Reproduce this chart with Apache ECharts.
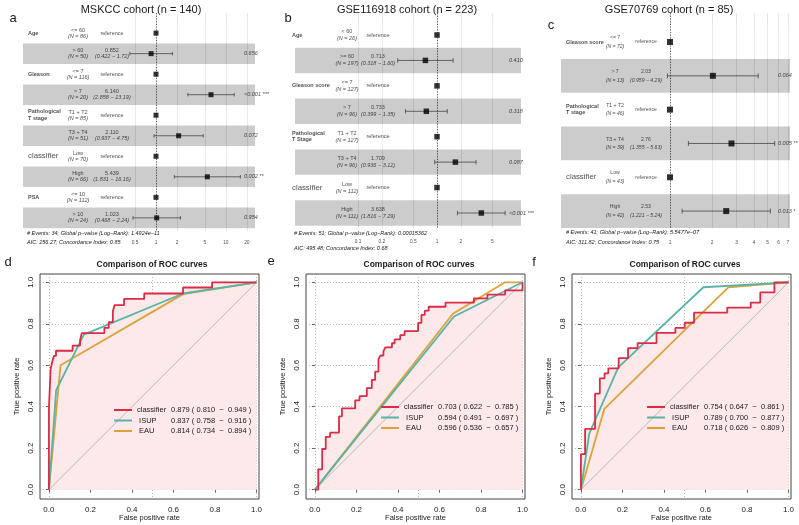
<!DOCTYPE html>
<html><head><meta charset="utf-8">
<script src="https://cdn.jsdelivr.net/npm/echarts@6/dist/echarts.min.js"></script>
<style>html,body{margin:0;padding:0;background:#fff}#c{width:799px;height:525px}</style>
</head><body><div id="c"></div>
<script>
const FONT = '"Liberation Sans", Arial, Helvetica, sans-serif';
const TXT = '#1a1a1a';
const M = '\u2212';

// ===== a: MSKCC forest =====
const aTitle = 'MSKCC cohort (n = 140)';
const aVars   = ['Age','','Gleason','','Pathological\nT stage','','classifier','','PSA',''];
const aLevels = ['<= 60','> 60','<= 7','> 7','T1 + T2','T3 + T4','Low','High','<= 10','> 10'];
const aN      = [86,50,116,20,85,51,70,66,112,24];
const aHR     = [1,0.852,1,6.140,1,2.110,1,5.439,1,1.023];
const aLo     = [null,0.422,null,2.858,null,0.937,null,1.831,null,0.468];
const aHi     = [null,1.72,null,13.19,null,4.75,null,16.16,null,2.24];
const aEst    = ['reference','0.852','reference','6.140','reference','2.110','reference','5.439','reference','1.023'];
const aCI     = ['','(0.422 '+M+' 1.72)','','(2.858 '+M+' 13.19)','','(0.937 '+M+' 4.75)','','(1.831 '+M+' 16.16)','','(0.468 '+M+' 2.24)'];
const aP      = ['','0.656','','<0.001 ***','','0.072','','0.002 **','','0.954'];
const aTicks  = [0.5,1,2,5,10,20];
const aFoot   = ['# Events: 34; Global p'+M+'value (Log'+M+'Rank): 1.4924e'+M+'11','AIC: 256.27; Concordance Index: 0.85'];

// ===== b: GSE116918 forest =====
const bTitle = 'GSE116918 cohort (n = 223)';
const bVars   = ['Age','','Gleason score','','Pathological\nT Stage','','classifier',''];
const bLevels = ['< 60','>= 60','<= 7','> 7','T1 + T2','T3 + T4','Low','High'];
const bN      = [26,197,127,96,127,96,112,111];
const bHR     = [1,0.713,1,0.733,1,1.709,1,3.638];
const bLo     = [null,0.318,null,0.399,null,0.936,null,1.816];
const bHi     = [null,1.60,null,1.35,null,3.12,null,7.29];
const bEst    = ['reference','0.713','reference','0.733','reference','1.709','reference','3.638'];
const bCI     = ['','(0.318 '+M+' 1.60)','','(0.399 '+M+' 1.35)','','(0.936 '+M+' 3.12)','','(1.816 '+M+' 7.29)'];
const bP      = ['','0.410','','0.318','','0.087','','<0.001 ***'];
const bTicks  = [0.1,0.2,0.5,1,2,5];
const bFoot   = ['# Events: 51; Global p'+M+'value (Log'+M+'Rank): 0.00015362','AIC: 495.48; Concordance Index: 0.68'];

// ===== c: GSE70769 forest =====
const cTitle = 'GSE70769 cohort (n = 85)';
const cVars   = ['Gleason score','','Pathological\nT stage','','classifier',''];
const cLevels = ['<= 7','> 7','T1 + T2','T3 + T4','Low','High'];
const cN      = [72,13,46,39,43,42];
const cHR     = [1,2.03,1,2.76,1,2.53];
const cLo     = [null,0.959,null,1.355,null,1.221];
const cHi     = [null,4.29,null,5.63,null,5.24];
const cEst    = ['reference','2.03','reference','2.76','reference','2.53'];
const cCI     = ['','(0.959 '+M+' 4.29)','','(1.355 '+M+' 5.63)','','(1.221 '+M+' 5.24)'];
const cP      = ['','0.064','','0.005 **','','0.013 *'];
const cTicks  = [1,2,3,4,5,6,7];
const cFoot   = ['# Events: 41; Global p'+M+'value (Log'+M+'Rank): 5.5477e'+M+'07','AIC: 311.82; Concordance Index: 0.75'];

// ===== ROC curves (false positive rate, true positive rate) =====
const rocNames = ['classifier','ISUP','EAU'];
const dClsF = [0,0,0.008,0.016,0.024,0.034,0.114,0.150,0.158,0.267,0.288,0.308,0.316,0.362,0.459,0.646,0.786,1];
const dClsT = [0,0.39,0.58,0.617,0.645,0.67,0.695,0.72,0.755,0.78,0.808,0.86,0.89,0.92,0.946,0.975,1,1];
const dIsupF = [0,0.035,0.06,0.168,0.646,1];
const dIsupT = [0,0.48,0.53,0.748,0.946,1];
const dEauF = [0,0.056,0.646,1];
const dEauT = [0,0.60,0.943,1];
const dAuc = [0.879,0.837,0.814], dLo = [0.810,0.758,0.734], dHi = [0.949,0.916,0.894];
const dP = [0.214,0.085];

const eClsF = [0,0.016,0.035,0.052,0.073,0.116,0.130,0.194,0.215,0.250,0.274,0.290,0.306,0.315,0.330,0.339,0.371,0.384,0.411,0.432,0.497,0.513,0.529,0.548,0.629,0.766,0.831,0.916,1];
const eClsT = [0,0.098,0.196,0.255,0.275,0.353,0.392,0.431,0.451,0.490,0.529,0.569,0.627,0.647,0.667,0.686,0.706,0.725,0.745,0.765,0.804,0.843,0.863,0.882,0.902,0.922,0.941,0.961,1];
const eIsupF = [0,0.67,1];
const eIsupT = [0,0.835,1];
const eEauF = [0,0.665,0.916,1];
const eEauT = [0,0.848,1,1];
const eAuc = [0.703,0.594,0.596], eLo = [0.622,0.491,0.536], eHi = [0.785,0.697,0.657];
const eP = [0.046,0.017];

const fClsF = [0,0,0.020,0.068,0.091,0.114,0.132,0.182,0.227,0.273,0.364,0.455,0.500,0.545,0.705,0.818,0.864,0.932,1];
const fClsT = [0,0.171,0.293,0.463,0.537,0.561,0.585,0.634,0.683,0.707,0.756,0.780,0.805,0.854,0.878,0.902,0.951,1,1];
const fIsupF = [0,0.04,0.18,0.59,1];
const fIsupT = [0,0.27,0.59,0.976,1];
const fEauF = [0,0.113,0.71,1];
const fEauT = [0,0.39,0.976,1];
const fAuc = [0.754,0.789,0.718], fLo = [0.647,0.700,0.626], fHi = [0.861,0.877,0.809];
const fP = [0.548,0.567];

const rocTicks = [0,0.2,0.4,0.6,0.8,1];
const rocGridX = [0,0.5,1];
const diag = [0,1];

// ===== colours =====
const C_CLS = '#dc2b45', C_ISUP = '#58b3a8', C_EAU = '#dca33a', PINK = '#fde9e9';

const option = {
  animation: false, backgroundColor: '#ffffff',
  textStyle: {fontFamily: FONT},
  grid: [], xAxis: [], yAxis: [], series: [], legend: [], graphic: []
};

function gText(x, y, text, font, extra) {
  return {type: 'text', x: x, y: y, silent: true,
    style: Object.assign({text: text, font: font, fill: TXT, align: 'left', verticalAlign: 'middle', textAlign: 'left', textVerticalAlign: 'middle'}, extra || {})};
}

function addForest(d, L) {
  const FS = L.fs;
  const rows = d.levels.map((_, i) => i);
  const gT = option.grid.length;
  option.grid.push({left: L.bandLeft, top: L.top, width: L.bandWidth, height: L.height, outerBoundsMode: 'none'});
  const xT = option.xAxis.push({gridIndex: gT, type: 'value', min: 0, max: L.bandWidth, show: false}) - 1;
  const yT = option.yAxis.push({gridIndex: gT, type: 'value', min: L.ymin, max: L.ymax, inverse: true, show: false}) - 1;
  const gF = option.grid.length;
  option.grid.push({left: L.fLeft, top: L.top, width: L.fWidth, height: L.height, outerBoundsMode: 'none'});
  const xF = option.xAxis.push({gridIndex: gF, type: 'log', logBase: 10, min: L.xmin, max: L.xmax,
    axisLine: {show: false}, axisTick: {show: false, customValues: d.ticks},
    axisLabel: {show: true, customValues: d.ticks, margin: L.lblMargin, fontSize: 4.8, color: '#4d4d4d', fontFamily: FONT,
      formatter: v => String(+Number(v).toPrecision(4))},
    splitLine: {show: true, lineStyle: {color: '#d6d6d6', width: 0.6}}}) - 1;
  const yF = option.yAxis.push({gridIndex: gF, type: 'value', min: L.ymin, max: L.ymax, inverse: true, show: false}) - 1;

  // shaded bands
  option.series.push({type: 'custom', xAxisIndex: xT, yAxisIndex: yT, silent: true, z: 2, clip: false,
    data: rows.map(i => [0, i]),
    renderItem: (p, api) => {
      const i = api.value(1);
      const a = api.coord([0, i - 0.5]), b = api.coord([L.bandWidth, i + 0.5]);
      const ref = d.est[i] === 'reference';
      return {type: 'rect', shape: {x: a[0], y: a[1], width: b[0] - a[0], height: b[1] - a[1]},
        style: {fill: ref ? 'rgba(255,255,255,0.2)' : 'rgba(0,0,0,0.2)'}};
    }});

  const base = {fontFamily: FONT, color: TXT};
  const st = (o) => Object.assign({}, base, o);
  const textSeries = (data, label) => ({type: 'scatter', xAxisIndex: xT, yAxisIndex: yT, symbolSize: 0, silent: true, clip: false, z: 8,
    itemStyle: {color: 'transparent'}, data: data, label: Object.assign({show: true}, label)});

  // variable names
  option.series.push(textSeries(rows.filter(i => d.vars[i]).map(i => ({value: [L.cVar, i], name: d.vars[i]})),
    {position: 'right', distance: 0, formatter: p => p.name === 'classifier' ? '{c|classifier}' : '{v|' + p.name + '}',
     rich: {v: st({fontSize: 5.5, fontWeight: 'bold', lineHeight: 6.5}), c: st({fontSize: 7.8})}}));
  // levels + N
  option.series.push(textSeries(rows.map(i => ({value: [L.cLev, i]})),
    {position: 'inside', formatter: p => '{n|' + d.levels[p.dataIndex] + '}\n{i|(N = ' + d.n[p.dataIndex] + ')}',
     rich: {n: st({fontSize: FS, lineHeight: L.lh}), i: st({fontSize: FS, fontStyle: 'italic', lineHeight: L.lh})}}));
  // estimates
  option.series.push(textSeries(rows.map(i => ({value: [L.cEst, i]})),
    {position: 'inside', formatter: p => { const i = p.dataIndex; return d.est[i] === 'reference' ? '{n|reference}' : '{n|' + d.est[i] + '}\n{i|' + d.ci[i] + '}'; },
     rich: {n: st({fontSize: FS, lineHeight: L.lh}), i: st({fontSize: FS, fontStyle: 'italic', lineHeight: L.lh})}}));
  // p-values
  option.series.push(textSeries(rows.filter(i => d.p[i]).map(i => ({value: [L.cP, i], name: d.p[i]})),
    {position: 'right', distance: 0, formatter: p => '{i|' + p.name + '}',
     rich: {i: st({fontSize: 5.5, fontStyle: 'italic'})}}));

  // CI bars
  option.series.push({type: 'custom', xAxisIndex: xF, yAxisIndex: yF, silent: true, z: 5, clip: false,
    data: rows.filter(i => d.lo[i] != null).map(i => [d.lo[i], d.hi[i], i]),
    encode: {x: [0, 1], y: 2},
    renderItem: (p, api) => {
      const y = api.value(2);
      const a = api.coord([api.value(0), y]), b = api.coord([api.value(1), y]);
      const c = L.cap / 2, s = {stroke: '#333', lineWidth: 0.7};
      return {type: 'group', children: [
        {type: 'line', shape: {x1: a[0], y1: a[1], x2: b[0], y2: b[1]}, style: s},
        {type: 'line', shape: {x1: a[0], y1: a[1] - c, x2: a[0], y2: a[1] + c}, style: s},
        {type: 'line', shape: {x1: b[0], y1: b[1] - c, x2: b[0], y2: b[1] + c}, style: s}]};
    }});
  // HR squares + dotted reference line
  option.series.push({type: 'scatter', xAxisIndex: xF, yAxisIndex: yF, symbol: 'rect', symbolSize: L.sq, silent: true, z: 6,
    itemStyle: {color: '#000'}, data: rows.map(i => [d.hr[i], i]),
    markLine: {silent: true, symbol: 'none', label: {show: false}, animation: false,
      lineStyle: {color: '#000', width: 0.6, type: [1.2, 1.5]}, data: [{xAxis: 1}]}});

  option.graphic.push(gText(L.titleX, 10, d.title, '11px ' + FONT, {align: 'center', textAlign: 'center'}));
  option.graphic.push(gText(L.letter[0], L.letter[1], d.letter, '13px ' + FONT, {align: 'center', textAlign: 'center'}));
  option.graphic.push(gText(L.footX, L.footY[0], d.foot[0], 'italic 5.5px ' + FONT));
  option.graphic.push(gText(L.footX, L.footY[1], d.foot[1], 'italic 5.5px ' + FONT));
}

function addRoc(d, L) {
  const g = option.grid.length;
  option.grid.push({left: L.left, top: 274, width: 219, height: 225, show: true, borderColor: '#444', borderWidth: 1,
    backgroundColor: 'rgba(0,0,0,0)', outerBoundsMode: 'none'});
  const nameStyle = {fontSize: 7.5, color: TXT, fontFamily: FONT};
  const tickStyle = {color: '#444', width: 0.8};
  const dotted = {color: '#9a9a9a', width: 0.7, type: [1, 2]};
  const xi = option.xAxis.push({gridIndex: g, type: 'value', min: -0.043, max: 1.012,
    name: 'False positive rate', nameLocation: 'middle', nameGap: 15, nameMoveOverlap: false, nameTextStyle: nameStyle,
    axisLine: {show: false}, axisTick: {show: true, length: 3, customValues: rocTicks, lineStyle: tickStyle},
    axisLabel: {customValues: rocTicks, margin: 7, fontSize: 8, color: TXT, fontFamily: FONT, formatter: v => Number(v).toFixed(1)},
    splitLine: {show: false}}) - 1;
  option.xAxis.push({gridIndex: g, type: 'value', min: -0.043, max: 1.012,
    axisLine: {show: false}, axisTick: {show: false, customValues: rocGridX}, axisLabel: {show: false, customValues: rocGridX},
    splitLine: {show: true, lineStyle: dotted}});
  const yi = option.yAxis.push({gridIndex: g, type: 'value', min: -0.045, max: 1.04,
    name: 'True positive rate', nameLocation: 'middle', nameGap: 19, nameMoveOverlap: false, nameTextStyle: nameStyle,
    axisLine: {show: false}, axisTick: {show: true, length: 3, customValues: rocTicks, lineStyle: tickStyle},
    axisLabel: {customValues: rocTicks, rotate: 90, margin: 5, fontSize: 8, color: TXT, fontFamily: FONT, formatter: v => Number(v).toFixed(1)},
    splitLine: {show: true, lineStyle: dotted}}) - 1;

  const pts = (xs, ys) => xs.map((x, i) => [x, ys[i]]);
  const tag = d.letter;
  option.series.push({type: 'line', name: 'auc' + tag, xAxisIndex: xi, yAxisIndex: yi, data: pts(d.clsF, d.clsT), step: 'end',
    symbol: 'none', silent: true, z: 1, lineStyle: {width: 0, opacity: 0}, areaStyle: {color: PINK, opacity: 1}});
  option.series.push({type: 'line', name: 'diag' + tag, xAxisIndex: xi, yAxisIndex: yi, data: diag.map(v => [v, v]),
    symbol: 'none', silent: true, z: 2, lineStyle: {color: '#a8a8a8', width: 0.8}});
  const lines = [[d.eauF, d.eauT, C_EAU, 'EAU', false], [d.isupF, d.isupT, C_ISUP, 'ISUP', false], [d.clsF, d.clsT, C_CLS, 'classifier', true]];
  lines.forEach(([xs, ys, col, nm, stp]) => {
    option.series.push({type: 'line', name: nm + tag, xAxisIndex: xi, yAxisIndex: yi, data: pts(xs, ys), step: stp ? 'end' : false,
      symbol: 'none', silent: true, z: 3, color: col, itemStyle: {color: col}, lineStyle: {color: col, width: 1.8}});
  });
  const fmt3 = v => v.toFixed(3);
  const legText = {};
  rocNames.forEach((nm, k) => {
    legText[nm + tag] = '{a|' + (k ? ' ' : '') + nm + '}{b|' + fmt3(d.auc[k]) + ' ( ' + fmt3(d.lo[k]) + '  ' + M + '  ' + fmt3(d.hi[k]) + ' )}';
  });
  const rt = {fontSize: 7.5, color: TXT, fontFamily: FONT, lineHeight: 10};
  option.legend.push({left: L.legLeft, top: L.legTop, orient: 'vertical', icon: 'rect', itemWidth: 18, itemHeight: 2, itemGap: 0.5,
    padding: 0, selectedMode: false, data: rocNames.map(n => n + tag),
    formatter: n => legText[n], textStyle: Object.assign({}, rt, {rich: {a: Object.assign({width: 34}, rt), b: rt}})});
  option.graphic.push(gText(L.pX, 449, 'classifier vs. ISUP, P =' + d.p[0].toFixed(3), '7.5px ' + FONT));
  option.graphic.push(gText(L.pX, 458, 'classifier vs. EAU, P =' + d.p[1].toFixed(3), '7.5px ' + FONT));
  option.graphic.push(gText(L.titleX, 265, 'Comparison of ROC curves', 'bold 8.5px ' + FONT, {align: 'center', textAlign: 'center'}));
  option.graphic.push(gText(L.letter[0], L.letter[1], d.letter, '13px ' + FONT, {align: 'center', textAlign: 'center'}));
}

addForest({title: aTitle, letter: 'a', vars: aVars, levels: aLevels, n: aN, hr: aHR, lo: aLo, hi: aHi, est: aEst, ci: aCI, p: aP, ticks: aTicks, foot: aFoot},
  {bandLeft: 23, bandWidth: 232, top: 13, height: 218, ymin: -0.98, ymax: 9.64, fLeft: 124, fWidth: 131, xmin: 0.348, xmax: 26.2,
   cVar: 5, cLev: 55, cEst: 89, cP: 221, lh: 6.2, fs: 5.5, sq: 5, cap: 3.5, lblMargin: 9.5, titleX: 141, letter: [13, 18], footX: 27, footY: [233, 242]});
addForest({title: bTitle, letter: 'b', vars: bVars, levels: bLevels, n: bN, hr: bHR, lo: bLo, hi: bHi, est: bEst, ci: bCI, p: bP, ticks: bTicks, foot: bFoot},
  {bandLeft: 295, bandWidth: 226, top: 13, height: 215, ymin: -0.865, ymax: 7.59, fLeft: 355, fWidth: 166, xmin: 0.0916, xmax: 11.57,
   cVar: -3, cLev: 52, cEst: 83, cP: 214, lh: 7, fs: 5.5, sq: 5.5, cap: 4.5, lblMargin: 11.5, titleX: 407, letter: [288, 18], footX: 294, footY: [233, 248]});
addForest({title: cTitle, letter: 'c', vars: cVars, levels: cLevels, n: cN, hr: cHR, lo: cLo, hi: cHi, est: cEst, ci: cCI, p: cP, ticks: cTicks, foot: cFoot},
  {bandLeft: 561, bandWidth: 229, top: 13, height: 215, ymin: -0.858, ymax: 5.5, fLeft: 660, fWidth: 130, xmin: 0.848, xmax: 7.25,
   cVar: 5, cLev: 54, cEst: 85, cP: 217, lh: 8.5, fs: 5.1, sq: 6, cap: 5, lblMargin: 12.5, titleX: 669, letter: [551, 25], footX: 566, footY: [232, 242]});

addRoc({letter: 'd', clsF: dClsF, clsT: dClsT, isupF: dIsupF, isupT: dIsupT, eauF: dEauF, eauT: dEauT, auc: dAuc, lo: dLo, hi: dHi, p: dP},
  {left: 40, legLeft: 114, legTop: 405, pX: 122, titleX: 152, letter: [8, 262]});
addRoc({letter: 'e', clsF: eClsF, clsT: eClsT, isupF: eIsupF, isupT: eIsupT, eauF: eEauF, eauT: eEauT, auc: eAuc, lo: eLo, hi: eHi, p: eP},
  {left: 306, legLeft: 381, legTop: 402, pX: 388, titleX: 419, letter: [271, 261]});
addRoc({letter: 'f', clsF: fClsF, clsT: fClsT, isupF: fIsupF, isupT: fIsupT, eauF: fEauF, eauT: fEauT, auc: fAuc, lo: fLo, hi: fHi, p: fP},
  {left: 572, legLeft: 647, legTop: 402, pX: 655, titleX: 685, letter: [534, 262]});

const chart = echarts.init(document.getElementById('c'), null, {renderer: 'canvas'});
chart.setOption(option);
</script>
</body></html>
